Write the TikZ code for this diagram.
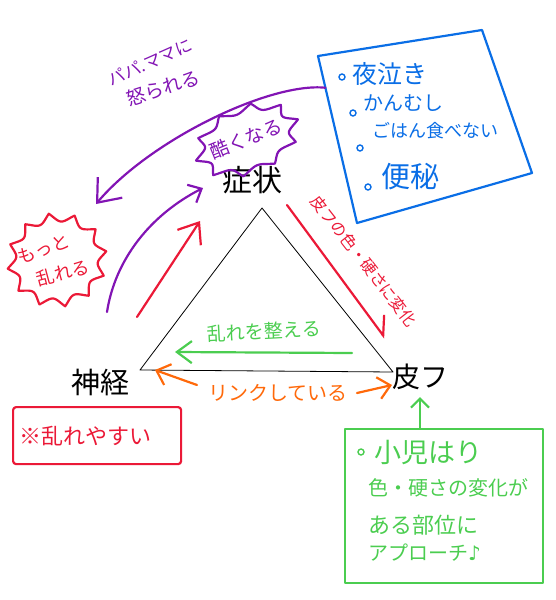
\documentclass[tikz,border=0pt]{standalone}
\usepackage{fontspec}
\setmainfont{Noto Sans CJK JP}
\newfontfamily\symfont{DejaVu Sans}
\usetikzlibrary{arrows.meta,calc}
\definecolor{sketchPurple}{RGB}{130,20,180}
\definecolor{sketchBlue}{RGB}{10,110,230}
\definecolor{sketchRed}{RGB}{235,25,55}
\definecolor{sketchGreen}{RGB}{75,205,80}
\definecolor{sketchOrange}{RGB}{255,105,10}

\begin{document}
\begin{tikzpicture}[x=1pt, y=-1pt,
    sketchline/.style={line width=2.2pt, line cap=round, line join=round},
    jsize/.style={font=\fontsize{#1}{#1}\selectfont},
    wordnode/.style={inner sep=0pt},
    bulletdot/.style={circle, draw, line width=1.4pt, inner sep=0pt, minimum size=6pt},
    >={Straight Barb[length=12pt,width=22pt]}]
\useasboundingbox (0,0) rectangle (555,600);

% triangle
\coordinate (triTop) at (262,208);
\coordinate (triLeft) at (140,370);
\coordinate (triRight) at (393,372);
\draw[line width=0.8pt, line join=round] (triTop) -- (triLeft) -- (triRight) -- cycle;

\node[wordnode, jsize=30] (shojo) at (252,180) {症状};
\node[wordnode, jsize=29] (shinkei) at (100,383) {神経};
\node[wordnode, jsize=28] (hifu) at (420,377) {皮フ};

% symptoms box
\coordinate (blueNW) at (318,56);
\coordinate (blueNE) at (482,30);
\coordinate (blueSE) at (532,173);
\coordinate (blueSW) at (357,223);
\draw[sketchline, sketchBlue] (blueNW) -- (blueNE) -- (blueSE) -- (blueSW) -- cycle;
\node[bulletdot, sketchBlue] (dotA) at (342,77) {};
\node[wordnode, sketchBlue, jsize=25, anchor=west] (yonaki) at (352,74) {夜泣き};
\node[bulletdot, sketchBlue] (dotB) at (353,113) {};
\node[wordnode, sketchBlue, jsize=20, anchor=west] (kanmushi) at (363,103) {かんむし};
\node[bulletdot, sketchBlue] (dotC) at (360,148) {};
\node[wordnode, sketchBlue, jsize=18, anchor=west] (gohan) at (372,131) {ごはん食べない};
\node[bulletdot, sketchBlue] (dotD) at (368,187) {};
\node[wordnode, sketchBlue, jsize=29, anchor=west] (benpi) at (381,177) {便秘};

% scolded -> worse
\coordinate (scoldFrom) at ($(blueNW)!0.19!(blueSW)$);
\coordinate (worseTip) at (96,204);
\draw[sketchline, sketchPurple, -{Straight Barb[length=20pt,width=32pt]}] (scoldFrom) .. controls (270,82) and (150,140) .. (worseTip);
\node[wordnode, sketchPurple, jsize=17, rotate=24] (papamama) at (150,62) {パパ.ママに};
\node[wordnode, sketchPurple, jsize=19, rotate=18] (okorareru) at (163,88) {怒られる};

% bursts
\draw[sketchline, sketchPurple, shift={(247,140)}, rotate=22] plot[domain=0:360, samples=361] ({55*(1-0.2*abs(sin(5*\x)))*cos(\x)}, {34*(1-0.2*abs(sin(5*\x)))*sin(\x)}) -- cycle;
\node[wordnode, sketchPurple, jsize=19, rotate=22] (hidoku) at (246,139) {酷くなる};
\draw[sketchline, sketchRed, shift={(57,260)}, rotate=10] plot[domain=0:360, samples=361] ({50*(1-0.18*abs(sin(6*\x)))*cos(\x)}, {47*(1-0.18*abs(sin(6*\x)))*sin(\x)}) -- cycle;
\node[wordnode, sketchRed, jsize=18, rotate=20] (motto) at (44,249) {もっと};
\node[wordnode, sketchRed, jsize=18, rotate=15] (midareru) at (63,273) {乱れる};

% arrows up to the symptoms
\coordinate (upFrom) at (107,312);
\coordinate (upTip) at (203,188);
\draw[sketchline, sketchPurple, -{Straight Barb[length=11pt,width=20pt]}] (upFrom) .. controls (115,260) and (150,215) .. (upTip);
\coordinate (redFrom) at (137,317);
\coordinate (redTip) at (200,221);
\draw[sketchline, sketchRed, -{Straight Barb[length=18pt,width=28pt]}] (redFrom) -- (redTip);

% skin side
\coordinate (skinFrom) at (287,205);
\coordinate (skinTip) at (385,338);
\draw[sketchline, sketchRed, -{Straight Barb[left,length=16pt,width=26pt]}] (skinFrom) -- (skinTip);
\node[wordnode, sketchRed, jsize=16, rotate=-52] (skinChange) at (364,261) {皮フの色・硬さに変化};

% fix
\coordinate (fixFrom) at (352,353);
\coordinate (fixTip) at (175,352);
\draw[sketchline, sketchGreen, -{Straight Barb[length=15pt,width=22pt]}] (fixFrom) -- (fixTip);
\node[wordnode, sketchGreen, jsize=19, rotate=3] (fix) at (264,331) {乱れを整える};

% link
\node[wordnode, sketchOrange, jsize=20] (link) at (278,393) {リンクしている};
\coordinate (linkLfrom) at (197,385);
\coordinate (linkL) at (155,370);
\coordinate (linkRfrom) at (357,393);
\coordinate (linkR) at (392,385);
\draw[sketchline, sketchOrange, ->] (linkLfrom) -- (linkL);
\draw[sketchline, sketchOrange, ->] (linkRfrom) -- (linkR);

% notes
\node[sketchline, draw=sketchRed, text=sketchRed, jsize=22, anchor=north west, text width=156pt, inner xsep=6pt, minimum height=57pt, rounded corners=3pt, align=left] (easyBox) at (12,406) {※乱れやすい};

\node[sketchline, draw=sketchGreen, minimum width=198pt, minimum height=154pt] (approach) at (444,506) {};
\node[bulletdot, sketchGreen] (dotE) at (361,452) {};
\node[wordnode, sketchGreen, jsize=27, anchor=west] (shoni) at (374,452) {小児はり};
\node[wordnode, sketchGreen, jsize=20, anchor=west] (lineTwo) at (368,488) {色・硬さの変化が};
\node[wordnode, sketchGreen, jsize=22, anchor=west] (lineThree) at (368,525) {ある部位に};
\node[wordnode, sketchGreen, jsize=20, anchor=west] (lineFour) at (368,553) {アプローチ{\symfont ♪}};
\draw[sketchline, sketchGreen, -{Straight Barb[length=9pt,width=18pt]}, shorten >=7pt] (approach.north -| hifu) -- (hifu.south);
\end{tikzpicture}
\end{document}
